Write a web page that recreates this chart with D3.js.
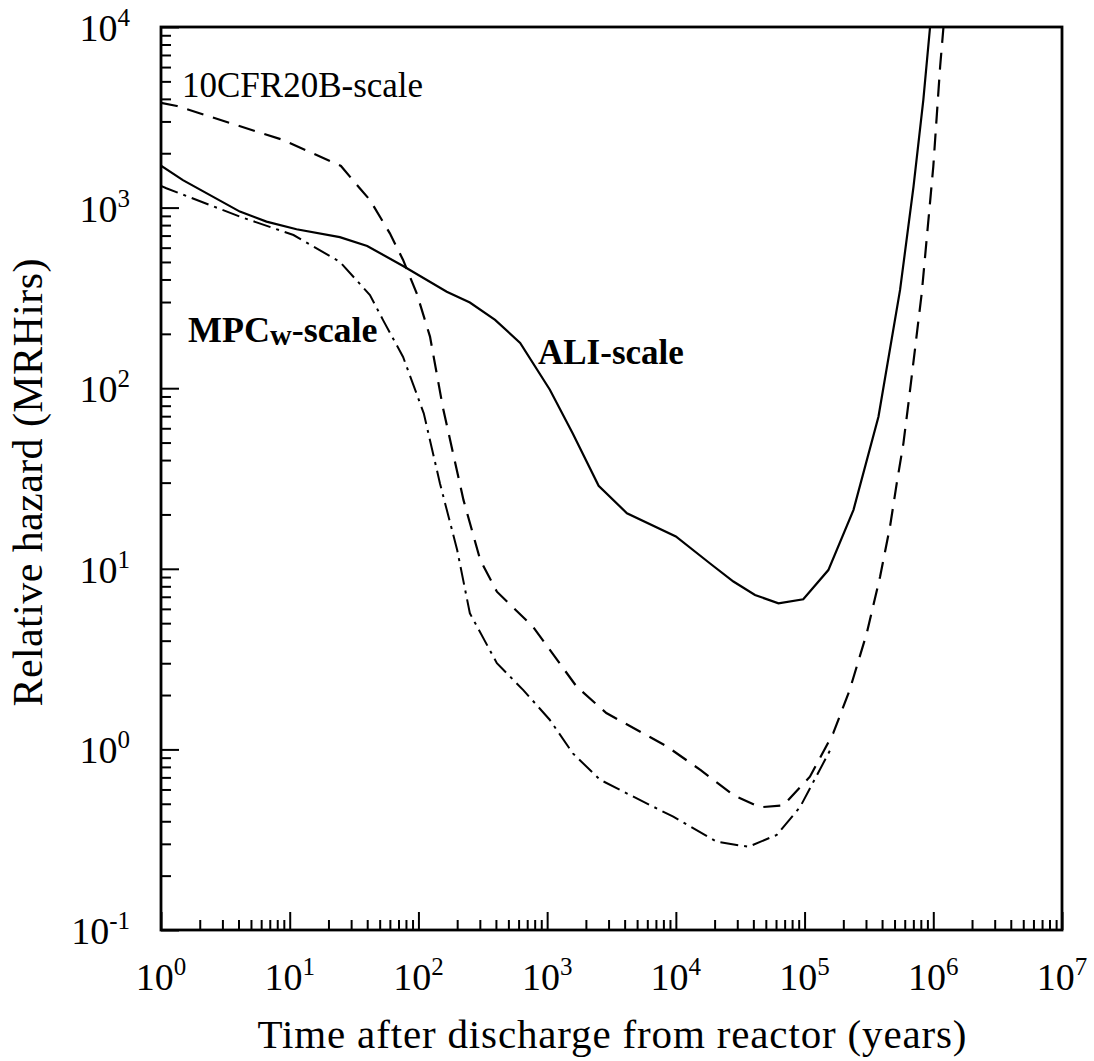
<!DOCTYPE html>
<html>
<head>
<meta charset="utf-8">
<script src="https://cdn.jsdelivr.net/npm/d3@7"></script>
<style>
  html, body { margin: 0; padding: 0; background: #fff; }
  svg { display: block; }
  text { font-family: "Liberation Serif", "DejaVu Serif", serif; fill: #000; }
</style>
</head>
<body>
<svg id="chart" width="1094" height="1061"></svg>
<script>
// ---- data ----
const xTickExps = [0, 1, 2, 3, 4, 5, 6, 7];
const yTickExps = [-1, 0, 1, 2, 3, 4];

const aliT = [1, 1.48, 4.1, 6.6, 11.3, 24.5, 40, 76, 166, 251, 394, 617, 1050, 1585, 2512, 4170, 10000, 18450, 28000, 41200, 62700, 97700, 153000, 240000, 375000, 552000, 702000, 837000, 944000];
const aliV = [1706, 1420, 950, 836, 759, 686, 613, 475, 342, 298, 239, 178, 98, 56, 28.8, 20.3, 15.1, 10.7, 8.5, 7.16, 6.44, 6.78, 9.84, 21.2, 69.5, 350, 1306, 3946, 10000];

const cfrT = [1, 1.33, 8.9, 25, 35, 42, 60, 76, 97, 123, 155, 224, 302, 407, 776, 1700, 2884, 8500, 15500, 28000, 45000, 68400, 110000, 167000, 224000, 304000, 386000, 461000, 520000, 586000, 646000, 813000, 1000000, 1130000, 1200000];
const cfrV = [3800, 3652, 2367, 1700, 1280, 1102, 720, 513, 335, 193, 78, 24, 11.2, 7.47, 4.78, 2.22, 1.59, 1.04, 0.77, 0.558, 0.478, 0.49, 0.706, 1.23, 2.13, 4.39, 9.04, 17.1, 29.7, 49.5, 86, 335, 1683, 6025, 10000];

const mpcT = [1, 1.1, 4.1, 10.7, 24.5, 42, 53, 76, 110, 147, 200, 251, 407, 653, 1047, 1585, 2570, 4677, 9550, 20800, 36600, 60800, 92300, 158000];
const mpcV = [1318, 1280, 891, 705, 501, 328, 239, 149, 72.6, 29.7, 12.7, 5.67, 3.0, 2.13, 1.46, 0.95, 0.68, 0.547, 0.424, 0.308, 0.289, 0.336, 0.48, 0.99];

const seriesLabels = ["10CFR20B-scale", "MPC", "w", "-scale", "ALI-scale"];
const xTitle = "Time after discharge from reactor (years)";
const yTitle = "Relative hazard (MRHirs)";

// ---- layout ----
const L = 161, R = 1062, T = 27, B = 930;
const svg = d3.select("#chart");

const x = d3.scaleLog().domain([1, 1e7]).range([L, R]);
const y = d3.scaleLog().domain([0.1, 1e4]).range([B, T]);

const majorX = xTickExps.map(e => Math.pow(10, e));
const majorY = yTickExps.map(e => Math.pow(10, e));
const minorX = [], minorY = [];
for (let e = 0; e < 7; e++) for (let k = 2; k <= 9; k++) minorX.push(k * Math.pow(10, e));
for (let e = -1; e < 4; e++) for (let k = 2; k <= 9; k++) minorY.push(k * Math.pow(10, e));

// ticks (inward)
function styleAxis(g) {
  g.select(".domain").remove();
  g.selectAll(".tick line").attr("stroke", "#000").attr("stroke-width", 2);
  g.selectAll(".tick text").remove();
}
svg.append("g").attr("transform", `translate(0,${B})`)
  .call(d3.axisBottom(x).tickValues(majorX).tickSize(-18).tickFormat(""))
  .call(styleAxis);
svg.append("g").attr("transform", `translate(0,${B})`)
  .call(d3.axisBottom(x).tickValues(minorX).tickSize(-10).tickFormat(""))
  .call(styleAxis);
svg.append("g").attr("transform", `translate(${L},0)`)
  .call(d3.axisLeft(y).tickValues(majorY).tickSize(-18).tickFormat(""))
  .call(styleAxis);
svg.append("g").attr("transform", `translate(${L},0)`)
  .call(d3.axisLeft(y).tickValues(minorY).tickSize(-10).tickFormat(""))
  .call(styleAxis);

// frame
svg.append("rect").attr("x", L).attr("y", T).attr("width", R - L).attr("height", B - T)
  .attr("fill", "none").attr("stroke", "#000").attr("stroke-width", 2.8);

// tick labels
const xl = svg.append("g");
xTickExps.forEach(e => {
  const t = xl.append("text").attr("x", x(Math.pow(10, e))).attr("y", 990)
    .attr("text-anchor", "middle").attr("font-size", 38);
  t.append("tspan").text("10");
  t.append("tspan").attr("dy", -15).attr("font-size", 25).text(String(e));
});
const yl = svg.append("g");
yTickExps.forEach(e => {
  const t = yl.append("text").attr("x", 130).attr("y", y(Math.pow(10, e)) + 14)
    .attr("text-anchor", "end").attr("font-size", 38);
  t.append("tspan").text("10");
  t.append("tspan").attr("dy", -15).attr("font-size", 25).text(String(e));
});

// axis titles
svg.append("text").attr("x", 612).attr("y", 1048).attr("text-anchor", "middle")
  .attr("font-size", 41).attr("textLength", 709).attr("lengthAdjust", "spacing").text(xTitle);
svg.append("text").attr("transform", `translate(42,${(T + B) / 2 + 4}) rotate(-90)`)
  .attr("text-anchor", "middle").attr("font-size", 42)
  .attr("textLength", 448).attr("lengthAdjust", "spacing").text(yTitle);

// curves
svg.append("clipPath").attr("id", "clip").append("rect")
  .attr("x", L).attr("y", T).attr("width", R - L).attr("height", B - T);
const line = d3.line().x(d => x(d[0])).y(d => y(d[1]));
const curves = svg.append("g").attr("clip-path", "url(#clip)");
curves.append("path").datum(d3.zip(aliT, aliV)).attr("d", line)
  .attr("fill", "none").attr("stroke", "#000").attr("stroke-width", 2.2);
curves.append("path").datum(d3.zip(cfrT, cfrV)).attr("d", line)
  .attr("fill", "none").attr("stroke", "#000").attr("stroke-width", 2.2)
  .attr("stroke-dasharray", "17,10");
curves.append("path").datum(d3.zip(mpcT, mpcV)).attr("d", line)
  .attr("fill", "none").attr("stroke", "#000").attr("stroke-width", 2)
  .attr("stroke-dasharray", "18,6,3,6");

// series labels
svg.append("text").attr("x", 182).attr("y", 97).attr("font-size", 35).text(seriesLabels[0]);
const mp = svg.append("text").attr("x", 188).attr("y", 342).attr("font-size", 36).attr("font-weight", "bold");
mp.append("tspan").text(seriesLabels[1]);
mp.append("tspan").attr("dy", 3).attr("font-size", 30).text(seriesLabels[2]);
mp.append("tspan").attr("dy", -3).attr("font-size", 36).text(seriesLabels[3]);
svg.append("text").attr("x", 538).attr("y", 364).attr("font-size", 35).attr("font-weight", "bold").text(seriesLabels[4]);
</script>
</body>
</html>
